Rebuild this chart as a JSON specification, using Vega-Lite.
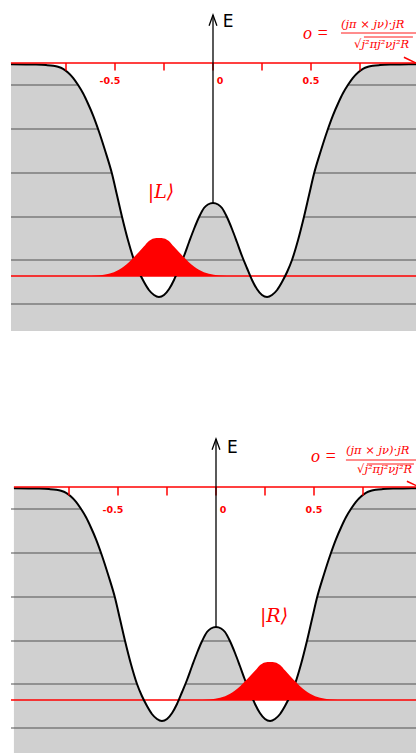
{
  "$schema": "https://vega.github.io/schema/vega-lite/v6.json",
  "padding": {"left": 10, "top": 11, "right": 0, "bottom": 0},
  "spacing": 104,
  "config": {"view": {"stroke": null}},
  "data": {"values": [
    {"k": "pot", "x": -1.031, "E": -0.013}, {"k": "pot", "x": -0.954, "E": -0.014}, {"k": "pot", "x": -0.903, "E": -0.016}, {"k": "pot", "x": -0.852, "E": -0.021},
    {"k": "pot", "x": -0.816, "E": -0.028}, {"k": "pot", "x": -0.791, "E": -0.038}, {"k": "pot", "x": -0.765, "E": -0.058}, {"k": "pot", "x": -0.74, "E": -0.095},
    {"k": "pot", "x": -0.714, "E": -0.148}, {"k": "pot", "x": -0.689, "E": -0.218}, {"k": "pot", "x": -0.663, "E": -0.303}, {"k": "pot", "x": -0.638, "E": -0.405},
    {"k": "pot", "x": -0.612, "E": -0.523}, {"k": "pot", "x": -0.582, "E": -0.685}, {"k": "pot", "x": -0.551, "E": -0.873}, {"k": "pot", "x": -0.515, "E": -1.11},
    {"k": "pot", "x": -0.49, "E": -1.32}, {"k": "pot", "x": -0.464, "E": -1.54},
    {"k": "pot", "x": -0.434, "E": -1.77}, {"k": "pot", "x": -0.403, "E": -1.97}, {"k": "pot", "x": -0.378, "E": -2.09}, {"k": "pot", "x": -0.352, "E": -2.19},
    {"k": "pot", "x": -0.327, "E": -2.27}, {"k": "pot", "x": -0.301, "E": -2.32}, {"k": "pot", "x": -0.276, "E": -2.34}, {"k": "pot", "x": -0.25, "E": -2.32},
    {"k": "pot", "x": -0.224, "E": -2.26}, {"k": "pot", "x": -0.199, "E": -2.17}, {"k": "pot", "x": -0.173, "E": -2.05}, {"k": "pot", "x": -0.148, "E": -1.93},
    {"k": "pot", "x": -0.122, "E": -1.79}, {"k": "pot", "x": -0.097, "E": -1.66}, {"k": "pot", "x": -0.071, "E": -1.54}, {"k": "pot", "x": -0.046, "E": -1.45},
    {"k": "pot", "x": -0.026, "E": -1.415}, {"k": "pot", "x": 0, "E": -1.4},
    {"k": "pot", "x": 0.026, "E": -1.415}, {"k": "pot", "x": 0.046, "E": -1.45}, {"k": "pot", "x": 0.071, "E": -1.54}, {"k": "pot", "x": 0.097, "E": -1.66},
    {"k": "pot", "x": 0.122, "E": -1.79}, {"k": "pot", "x": 0.148, "E": -1.93}, {"k": "pot", "x": 0.173, "E": -2.05}, {"k": "pot", "x": 0.199, "E": -2.17},
    {"k": "pot", "x": 0.224, "E": -2.26}, {"k": "pot", "x": 0.25, "E": -2.32}, {"k": "pot", "x": 0.276, "E": -2.34}, {"k": "pot", "x": 0.301, "E": -2.32},
    {"k": "pot", "x": 0.327, "E": -2.27}, {"k": "pot", "x": 0.352, "E": -2.19}, {"k": "pot", "x": 0.378, "E": -2.09}, {"k": "pot", "x": 0.403, "E": -1.97},
    {"k": "pot", "x": 0.434, "E": -1.77}, {"k": "pot", "x": 0.464, "E": -1.54}, {"k": "pot", "x": 0.49, "E": -1.32},
    {"k": "pot", "x": 0.515, "E": -1.11}, {"k": "pot", "x": 0.551, "E": -0.873}, {"k": "pot", "x": 0.582, "E": -0.685}, {"k": "pot", "x": 0.612, "E": -0.523},
    {"k": "pot", "x": 0.638, "E": -0.405}, {"k": "pot", "x": 0.663, "E": -0.303}, {"k": "pot", "x": 0.689, "E": -0.218}, {"k": "pot", "x": 0.714, "E": -0.148},
    {"k": "pot", "x": 0.74, "E": -0.095}, {"k": "pot", "x": 0.765, "E": -0.058}, {"k": "pot", "x": 0.791, "E": -0.038}, {"k": "pot", "x": 0.816, "E": -0.028},
    {"k": "pot", "x": 0.852, "E": -0.021}, {"k": "pot", "x": 0.903, "E": -0.016}, {"k": "pot", "x": 0.954, "E": -0.014}, {"k": "pot", "x": 1.031, "E": -0.013},
    {"k": "pot", "x": 1.06, "E": -0.013},
    {"k": "lev", "E": -0.22}, {"k": "lev", "E": -0.66}, {"k": "lev", "E": -1.1}, {"k": "lev", "E": -1.54}, {"k": "lev", "E": -1.97}, {"k": "lev", "E": -2.41},
    {"k": "gnd", "E": -2.13},
    {"k": "tick", "x": -0.75}, {"k": "tick", "x": -0.5}, {"k": "tick", "x": -0.25}, {"k": "tick", "x": 0}, {"k": "tick", "x": 0.25}, {"k": "tick", "x": 0.5}, {"k": "tick", "x": 0.75},
    {"k": "nlab", "x": -0.5, "t": "-0.5"},
    {"k": "tlab", "x": 0.5, "t": "0.5"},
    {"k": "zlab", "x": 0, "t": "0"},
    {"k": "xax", "x": -1.031, "x2": 1.036, "E": 0},
    {"k": "xarr", "x": 0.974, "E": 0.058, "o": 1}, {"k": "xarr", "x": 1.036, "E": 0, "o": 2}, {"k": "xarr", "x": 0.974, "E": -0.058, "o": 3},
    {"k": "eax", "x": 0, "E": -1.4, "E2": 0.48},
    {"k": "earr", "x": -0.02, "E": 0.373}, {"k": "earr", "x": 0, "E": 0.48}, {"k": "earr", "x": 0.02, "E": 0.373},
    {"k": "wL", "x": -0.659, "E": -2.13}, {"k": "wL", "x": -0.582, "E": -2.124}, {"k": "wL", "x": -0.531, "E": -2.108}, {"k": "wL", "x": -0.48, "E": -2.068},
    {"k": "wL", "x": -0.455, "E": -2.035}, {"k": "wL", "x": -0.429, "E": -1.993}, {"k": "wL", "x": -0.404, "E": -1.943}, {"k": "wL", "x": -0.378, "E": -1.889},
    {"k": "wL", "x": -0.353, "E": -1.836}, {"k": "wL", "x": -0.327, "E": -1.78}, {"k": "wL", "x": -0.302, "E": -1.754}, {"k": "wL", "x": -0.276, "E": -1.75},
    {"k": "wL", "x": -0.25, "E": -1.754}, {"k": "wL", "x": -0.225, "E": -1.78}, {"k": "wL", "x": -0.2, "E": -1.836}, {"k": "wL", "x": -0.174, "E": -1.889},
    {"k": "wL", "x": -0.148, "E": -1.943}, {"k": "wL", "x": -0.123, "E": -1.993}, {"k": "wL", "x": -0.097, "E": -2.035}, {"k": "wL", "x": -0.072, "E": -2.068},
    {"k": "wL", "x": -0.021, "E": -2.108}, {"k": "wL", "x": 0.03, "E": -2.124}, {"k": "wL", "x": 0.107, "E": -2.13},
    {"k": "wR", "x": -0.107, "E": -2.13}, {"k": "wR", "x": -0.03, "E": -2.124}, {"k": "wR", "x": 0.021, "E": -2.108}, {"k": "wR", "x": 0.072, "E": -2.068},
    {"k": "wR", "x": 0.097, "E": -2.035}, {"k": "wR", "x": 0.123, "E": -1.993}, {"k": "wR", "x": 0.148, "E": -1.943}, {"k": "wR", "x": 0.174, "E": -1.889},
    {"k": "wR", "x": 0.2, "E": -1.836}, {"k": "wR", "x": 0.225, "E": -1.78}, {"k": "wR", "x": 0.25, "E": -1.754}, {"k": "wR", "x": 0.276, "E": -1.75},
    {"k": "wR", "x": 0.302, "E": -1.754}, {"k": "wR", "x": 0.327, "E": -1.78}, {"k": "wR", "x": 0.353, "E": -1.836}, {"k": "wR", "x": 0.378, "E": -1.889},
    {"k": "wR", "x": 0.404, "E": -1.943}, {"k": "wR", "x": 0.429, "E": -1.993}, {"k": "wR", "x": 0.455, "E": -2.035}, {"k": "wR", "x": 0.48, "E": -2.068},
    {"k": "wR", "x": 0.531, "E": -2.108}, {"k": "wR", "x": 0.582, "E": -2.124}, {"k": "wR", "x": 0.659, "E": -2.13},
    {"k": "elab1", "x": 0.05, "E": 0.41, "t": "E"},
    {"k": "elab2", "x": 0.056, "E": 0.395, "t": "E"},
    {"k": "oeq1", "x": 0.459, "E": 0.29, "t": "o ="},
    {"k": "oeq2", "x": 0.485, "E": 0.3, "t": "o ="},
    {"k": "fr1", "x": 0.653, "E": 0.38, "t": "(jπ × jν)·jR"}, {"k": "fr1", "x": 0.72, "E": 0.18, "t": "√j²πj²νj²R"},
    {"k": "fr2", "x": 0.663, "E": 0.36, "t": "(jπ × jν)·jR"}, {"k": "fr2", "x": 0.72, "E": 0.17, "t": "√j²πj²νj²R"},
    {"k": "bar1", "x": 0.653, "x2": 1.04, "E": 0.3}, {"k": "bar1", "x": 0.77, "x2": 1.02, "E": 0.26},
    {"k": "bar2", "x": 0.663, "x2": 1.05, "E": 0.27}, {"k": "bar2", "x": 0.77, "x2": 1.01, "E": 0.23},
    {"k": "ket1", "x": -0.265, "E": -1.29, "t": "|L⟩"},
    {"k": "ket2", "x": 0.296, "E": -1.29, "t": "|R⟩"}
  ]},
  "vconcat": [
    {
      "width": 406,
      "height": 320,
      "layer": [
        {"transform": [{"filter": "datum.k == 'xarr'"}], "mark": {"type": "line", "color": "#ff0000", "strokeWidth": 1.5},
         "encoding": {"x": {"field": "x", "type": "quantitative", "scale": {"domain": [-1.0306, 1.0408], "nice": false, "zero": false}, "axis": null},
                      "y": {"field": "E", "type": "quantitative", "scale": {"domain": [-2.68, 0.52], "nice": false, "zero": false}, "axis": null},
                      "order": {"field": "o", "type": "quantitative"}}},
        {"transform": [{"filter": "datum.k == 'pot'"}], "mark": {"type": "area", "fill": "#d0d0d0", "interpolate": "monotone", "clip": true},
         "encoding": {"x": {"field": "x", "type": "quantitative", "scale": {"domain": [-1.0306, 1.0408], "nice": false, "zero": false}, "axis": null},
                      "y": {"field": "E", "type": "quantitative", "stack": null, "scale": {"domain": [-2.68, 0.52], "nice": false, "zero": false}, "axis": null},
                      "y2": {"datum": -2.68}}},
        {"transform": [{"filter": "datum.k == 'lev'"}], "mark": {"type": "rule", "stroke": "#505050", "strokeWidth": 1.2},
         "encoding": {"y": {"field": "E", "type": "quantitative", "scale": {"domain": [-2.68, 0.52], "nice": false, "zero": false}, "axis": null}}},
        {"transform": [{"filter": "datum.k == 'pot'"}], "mark": {"type": "area", "fill": "#ffffff", "interpolate": "monotone", "clip": true},
         "encoding": {"x": {"field": "x", "type": "quantitative", "scale": {"domain": [-1.0306, 1.0408], "nice": false, "zero": false}, "axis": null},
                      "y": {"field": "E", "type": "quantitative", "stack": null, "scale": {"domain": [-2.68, 0.52], "nice": false, "zero": false}, "axis": null},
                      "y2": {"datum": 0}}},
        {"transform": [{"filter": "datum.k == 'gnd'"}], "mark": {"type": "rule", "stroke": "#ff0000", "strokeWidth": 1.3},
         "encoding": {"y": {"field": "E", "type": "quantitative", "scale": {"domain": [-2.68, 0.52], "nice": false, "zero": false}, "axis": null}}},
        {"transform": [{"filter": "datum.k == 'pot'"}], "mark": {"type": "line", "color": "#000000", "strokeWidth": 2, "interpolate": "monotone", "clip": true},
         "encoding": {"x": {"field": "x", "type": "quantitative", "scale": {"domain": [-1.0306, 1.0408], "nice": false, "zero": false}, "axis": null},
                      "y": {"field": "E", "type": "quantitative", "scale": {"domain": [-2.68, 0.52], "nice": false, "zero": false}, "axis": null}}},
        {"transform": [{"filter": "datum.k == 'wL'"}], "mark": {"type": "area", "fill": "#ff0000", "interpolate": "monotone"},
         "encoding": {"x": {"field": "x", "type": "quantitative", "scale": {"domain": [-1.0306, 1.0408], "nice": false, "zero": false}, "axis": null},
                      "y": {"field": "E", "type": "quantitative", "stack": null, "scale": {"domain": [-2.68, 0.52], "nice": false, "zero": false}, "axis": null},
                      "y2": {"datum": -2.13}}},
        {"transform": [{"filter": "datum.k == 'xax'"}], "mark": {"type": "rule", "stroke": "#ff0000", "strokeWidth": 1.5},
         "encoding": {"x": {"field": "x", "type": "quantitative", "scale": {"domain": [-1.0306, 1.0408], "nice": false, "zero": false}, "axis": null},
                      "x2": {"field": "x2"},
                      "y": {"field": "E", "type": "quantitative", "scale": {"domain": [-2.68, 0.52], "nice": false, "zero": false}, "axis": null}}},
        {"transform": [{"filter": "datum.k == 'tick'"}], "mark": {"type": "rule", "stroke": "#ff0000", "strokeWidth": 1.5},
         "encoding": {"x": {"field": "x", "type": "quantitative", "scale": {"domain": [-1.0306, 1.0408], "nice": false, "zero": false}, "axis": null},
                      "y": {"datum": 0, "type": "quantitative", "scale": {"domain": [-2.68, 0.52], "nice": false, "zero": false}, "axis": null}, "y2": {"datum": -0.075}}},
        {"transform": [{"filter": "datum.k == 'tlab'"}], "mark": {"type": "text", "font": "DejaVu Sans", "fontWeight": "bold", "fontSize": 9.5, "fill": "#ff0000", "align": "center", "baseline": "middle"},
         "encoding": {"x": {"field": "x", "type": "quantitative", "scale": {"domain": [-1.0306, 1.0408], "nice": false, "zero": false}, "axis": null},
                      "y": {"datum": -0.18, "type": "quantitative", "scale": {"domain": [-2.68, 0.52], "nice": false, "zero": false}, "axis": null}, "text": {"field": "t", "type": "nominal"}}},
        {"transform": [{"filter": "datum.k == 'nlab'"}], "mark": {"type": "text", "font": "DejaVu Sans", "fontWeight": "bold", "fontSize": 9.5, "fill": "#ff0000", "align": "center", "baseline": "middle", "dx": -5},
         "encoding": {"x": {"field": "x", "type": "quantitative", "scale": {"domain": [-1.0306, 1.0408], "nice": false, "zero": false}, "axis": null},
                      "y": {"datum": -0.18, "type": "quantitative", "scale": {"domain": [-2.68, 0.52], "nice": false, "zero": false}, "axis": null}, "text": {"field": "t", "type": "nominal"}}},
        {"transform": [{"filter": "datum.k == 'zlab'"}], "mark": {"type": "text", "font": "DejaVu Sans", "fontWeight": "bold", "fontSize": 9.5, "fill": "#ff0000", "align": "center", "baseline": "middle", "dx": 7},
         "encoding": {"x": {"field": "x", "type": "quantitative", "scale": {"domain": [-1.0306, 1.0408], "nice": false, "zero": false}, "axis": null},
                      "y": {"datum": -0.18, "type": "quantitative", "scale": {"domain": [-2.68, 0.52], "nice": false, "zero": false}, "axis": null}, "text": {"field": "t", "type": "nominal"}}},
        {"transform": [{"filter": "datum.k == 'eax'"}], "mark": {"type": "rule", "stroke": "#000000", "strokeWidth": 1.3},
         "encoding": {"x": {"field": "x", "type": "quantitative", "scale": {"domain": [-1.0306, 1.0408], "nice": false, "zero": false}, "axis": null},
                      "y": {"field": "E", "type": "quantitative", "scale": {"domain": [-2.68, 0.52], "nice": false, "zero": false}, "axis": null},
                      "y2": {"field": "E2"}}},
        {"transform": [{"filter": "datum.k == 'earr'"}], "mark": {"type": "line", "color": "#000000", "strokeWidth": 1.3},
         "encoding": {"x": {"field": "x", "type": "quantitative", "scale": {"domain": [-1.0306, 1.0408], "nice": false, "zero": false}, "axis": null},
                      "y": {"field": "E", "type": "quantitative", "scale": {"domain": [-2.68, 0.52], "nice": false, "zero": false}, "axis": null}}},
        {"transform": [{"filter": "datum.k == 'elab1'"}], "mark": {"type": "text", "font": "DejaVu Sans", "fontSize": 17, "fill": "#000000", "align": "left", "baseline": "middle"},
         "encoding": {"x": {"field": "x", "type": "quantitative", "scale": {"domain": [-1.0306, 1.0408], "nice": false, "zero": false}, "axis": null},
                      "y": {"field": "E", "type": "quantitative", "scale": {"domain": [-2.68, 0.52], "nice": false, "zero": false}, "axis": null},
                      "text": {"field": "t", "type": "nominal"}}},
        {"transform": [{"filter": "datum.k == 'oeq1'"}], "mark": {"type": "text", "font": "Liberation Serif", "fontStyle": "italic", "fontSize": 18, "fill": "#ff0000", "align": "left", "baseline": "middle"},
         "encoding": {"x": {"field": "x", "type": "quantitative", "scale": {"domain": [-1.0306, 1.0408], "nice": false, "zero": false}, "axis": null},
                      "y": {"field": "E", "type": "quantitative", "scale": {"domain": [-2.68, 0.52], "nice": false, "zero": false}, "axis": null},
                      "text": {"field": "t", "type": "nominal"}}},
        {"transform": [{"filter": "datum.k == 'fr1'"}], "mark": {"type": "text", "font": "DejaVu Serif", "fontStyle": "italic", "fontSize": 11.5, "fill": "#ff0000", "align": "left", "baseline": "middle"},
         "encoding": {"x": {"field": "x", "type": "quantitative", "scale": {"domain": [-1.0306, 1.0408], "nice": false, "zero": false}, "axis": null},
                      "y": {"field": "E", "type": "quantitative", "scale": {"domain": [-2.68, 0.52], "nice": false, "zero": false}, "axis": null},
                      "text": {"field": "t", "type": "nominal"}}},
        {"transform": [{"filter": "datum.k == 'bar1'"}], "mark": {"type": "rule", "stroke": "#ff0000", "strokeWidth": 0.9},
         "encoding": {"x": {"field": "x", "type": "quantitative", "scale": {"domain": [-1.0306, 1.0408], "nice": false, "zero": false}, "axis": null},
                      "x2": {"field": "x2"},
                      "y": {"field": "E", "type": "quantitative", "scale": {"domain": [-2.68, 0.52], "nice": false, "zero": false}, "axis": null}}},
        {"transform": [{"filter": "datum.k == 'ket1'"}], "mark": {"type": "text", "font": "DejaVu Serif", "fontStyle": "italic", "fontSize": 19, "fill": "#ff0000", "align": "center", "baseline": "middle"},
         "encoding": {"x": {"field": "x", "type": "quantitative", "scale": {"domain": [-1.0306, 1.0408], "nice": false, "zero": false}, "axis": null},
                      "y": {"field": "E", "type": "quantitative", "scale": {"domain": [-2.68, 0.52], "nice": false, "zero": false}, "axis": null},
                      "text": {"field": "t", "type": "nominal"}}}
      ]
    },
    {
      "width": 406,
      "height": 320,
      "layer": [
        {"transform": [{"filter": "datum.k == 'xarr'"}], "mark": {"type": "line", "color": "#ff0000", "strokeWidth": 1.5},
         "encoding": {"x": {"field": "x", "type": "quantitative", "scale": {"domain": [-1.0459, 1.0255], "nice": false, "zero": false}, "axis": null},
                      "y": {"field": "E", "type": "quantitative", "scale": {"domain": [-2.68, 0.52], "nice": false, "zero": false}, "axis": null},
                      "order": {"field": "o", "type": "quantitative"}}},
        {"transform": [{"filter": "datum.k == 'pot'"}], "mark": {"type": "area", "fill": "#d0d0d0", "interpolate": "monotone", "clip": true},
         "encoding": {"x": {"field": "x", "type": "quantitative", "scale": {"domain": [-1.0459, 1.0255], "nice": false, "zero": false}, "axis": null},
                      "y": {"field": "E", "type": "quantitative", "stack": null, "scale": {"domain": [-2.68, 0.52], "nice": false, "zero": false}, "axis": null},
                      "y2": {"datum": -2.68}}},
        {"transform": [{"filter": "datum.k == 'lev'"}], "mark": {"type": "rule", "stroke": "#505050", "strokeWidth": 1.2},
         "encoding": {"y": {"field": "E", "type": "quantitative", "scale": {"domain": [-2.68, 0.52], "nice": false, "zero": false}, "axis": null}}},
        {"transform": [{"filter": "datum.k == 'pot'"}], "mark": {"type": "area", "fill": "#ffffff", "interpolate": "monotone", "clip": true},
         "encoding": {"x": {"field": "x", "type": "quantitative", "scale": {"domain": [-1.0459, 1.0255], "nice": false, "zero": false}, "axis": null},
                      "y": {"field": "E", "type": "quantitative", "stack": null, "scale": {"domain": [-2.68, 0.52], "nice": false, "zero": false}, "axis": null},
                      "y2": {"datum": 0}}},
        {"transform": [{"filter": "datum.k == 'gnd'"}], "mark": {"type": "rule", "stroke": "#ff0000", "strokeWidth": 1.3},
         "encoding": {"y": {"field": "E", "type": "quantitative", "scale": {"domain": [-2.68, 0.52], "nice": false, "zero": false}, "axis": null}}},
        {"transform": [{"filter": "datum.k == 'pot'"}], "mark": {"type": "line", "color": "#000000", "strokeWidth": 2, "interpolate": "monotone", "clip": true},
         "encoding": {"x": {"field": "x", "type": "quantitative", "scale": {"domain": [-1.0459, 1.0255], "nice": false, "zero": false}, "axis": null},
                      "y": {"field": "E", "type": "quantitative", "scale": {"domain": [-2.68, 0.52], "nice": false, "zero": false}, "axis": null}}},
        {"transform": [{"filter": "datum.k == 'wR'"}], "mark": {"type": "area", "fill": "#ff0000", "interpolate": "monotone"},
         "encoding": {"x": {"field": "x", "type": "quantitative", "scale": {"domain": [-1.0459, 1.0255], "nice": false, "zero": false}, "axis": null},
                      "y": {"field": "E", "type": "quantitative", "stack": null, "scale": {"domain": [-2.68, 0.52], "nice": false, "zero": false}, "axis": null},
                      "y2": {"datum": -2.13}}},
        {"transform": [{"filter": "datum.k == 'xax'"}], "mark": {"type": "rule", "stroke": "#ff0000", "strokeWidth": 1.5, "clip": true},
         "encoding": {"x": {"field": "x", "type": "quantitative", "scale": {"domain": [-1.0459, 1.0255], "nice": false, "zero": false}, "axis": null},
                      "x2": {"field": "x2"},
                      "y": {"field": "E", "type": "quantitative", "scale": {"domain": [-2.68, 0.52], "nice": false, "zero": false}, "axis": null}}},
        {"transform": [{"filter": "datum.k == 'tick'"}], "mark": {"type": "rule", "stroke": "#ff0000", "strokeWidth": 1.5},
         "encoding": {"x": {"field": "x", "type": "quantitative", "scale": {"domain": [-1.0459, 1.0255], "nice": false, "zero": false}, "axis": null},
                      "y": {"datum": 0, "type": "quantitative", "scale": {"domain": [-2.68, 0.52], "nice": false, "zero": false}, "axis": null}, "y2": {"datum": -0.085}}},
        {"transform": [{"filter": "datum.k == 'tlab'"}], "mark": {"type": "text", "font": "DejaVu Sans", "fontWeight": "bold", "fontSize": 9.5, "fill": "#ff0000", "align": "center", "baseline": "middle"},
         "encoding": {"x": {"field": "x", "type": "quantitative", "scale": {"domain": [-1.0459, 1.0255], "nice": false, "zero": false}, "axis": null},
                      "y": {"datum": -0.225, "type": "quantitative", "scale": {"domain": [-2.68, 0.52], "nice": false, "zero": false}, "axis": null}, "text": {"field": "t", "type": "nominal"}}},
        {"transform": [{"filter": "datum.k == 'nlab'"}], "mark": {"type": "text", "font": "DejaVu Sans", "fontWeight": "bold", "fontSize": 9.5, "fill": "#ff0000", "align": "center", "baseline": "middle", "dx": -5},
         "encoding": {"x": {"field": "x", "type": "quantitative", "scale": {"domain": [-1.0459, 1.0255], "nice": false, "zero": false}, "axis": null},
                      "y": {"datum": -0.225, "type": "quantitative", "scale": {"domain": [-2.68, 0.52], "nice": false, "zero": false}, "axis": null}, "text": {"field": "t", "type": "nominal"}}},
        {"transform": [{"filter": "datum.k == 'zlab'"}], "mark": {"type": "text", "font": "DejaVu Sans", "fontWeight": "bold", "fontSize": 9.5, "fill": "#ff0000", "align": "center", "baseline": "middle", "dx": 7},
         "encoding": {"x": {"field": "x", "type": "quantitative", "scale": {"domain": [-1.0459, 1.0255], "nice": false, "zero": false}, "axis": null},
                      "y": {"datum": -0.225, "type": "quantitative", "scale": {"domain": [-2.68, 0.52], "nice": false, "zero": false}, "axis": null}, "text": {"field": "t", "type": "nominal"}}},
        {"transform": [{"filter": "datum.k == 'eax'"}], "mark": {"type": "rule", "stroke": "#000000", "strokeWidth": 1.3},
         "encoding": {"x": {"field": "x", "type": "quantitative", "scale": {"domain": [-1.0459, 1.0255], "nice": false, "zero": false}, "axis": null},
                      "y": {"field": "E", "type": "quantitative", "scale": {"domain": [-2.68, 0.52], "nice": false, "zero": false}, "axis": null},
                      "y2": {"field": "E2"}}},
        {"transform": [{"filter": "datum.k == 'earr'"}], "mark": {"type": "line", "color": "#000000", "strokeWidth": 1.3},
         "encoding": {"x": {"field": "x", "type": "quantitative", "scale": {"domain": [-1.0459, 1.0255], "nice": false, "zero": false}, "axis": null},
                      "y": {"field": "E", "type": "quantitative", "scale": {"domain": [-2.68, 0.52], "nice": false, "zero": false}, "axis": null}}},
        {"transform": [{"filter": "datum.k == 'elab2'"}], "mark": {"type": "text", "font": "DejaVu Sans", "fontSize": 17, "fill": "#000000", "align": "left", "baseline": "middle"},
         "encoding": {"x": {"field": "x", "type": "quantitative", "scale": {"domain": [-1.0459, 1.0255], "nice": false, "zero": false}, "axis": null},
                      "y": {"field": "E", "type": "quantitative", "scale": {"domain": [-2.68, 0.52], "nice": false, "zero": false}, "axis": null},
                      "text": {"field": "t", "type": "nominal"}}},
        {"transform": [{"filter": "datum.k == 'oeq2'"}], "mark": {"type": "text", "font": "Liberation Serif", "fontStyle": "italic", "fontSize": 18, "fill": "#ff0000", "align": "left", "baseline": "middle"},
         "encoding": {"x": {"field": "x", "type": "quantitative", "scale": {"domain": [-1.0459, 1.0255], "nice": false, "zero": false}, "axis": null},
                      "y": {"field": "E", "type": "quantitative", "scale": {"domain": [-2.68, 0.52], "nice": false, "zero": false}, "axis": null},
                      "text": {"field": "t", "type": "nominal"}}},
        {"transform": [{"filter": "datum.k == 'fr2'"}], "mark": {"type": "text", "font": "DejaVu Serif", "fontStyle": "italic", "fontSize": 11.5, "fill": "#ff0000", "align": "left", "baseline": "middle"},
         "encoding": {"x": {"field": "x", "type": "quantitative", "scale": {"domain": [-1.0459, 1.0255], "nice": false, "zero": false}, "axis": null},
                      "y": {"field": "E", "type": "quantitative", "scale": {"domain": [-2.68, 0.52], "nice": false, "zero": false}, "axis": null},
                      "text": {"field": "t", "type": "nominal"}}},
        {"transform": [{"filter": "datum.k == 'bar2'"}], "mark": {"type": "rule", "stroke": "#ff0000", "strokeWidth": 0.9},
         "encoding": {"x": {"field": "x", "type": "quantitative", "scale": {"domain": [-1.0459, 1.0255], "nice": false, "zero": false}, "axis": null},
                      "x2": {"field": "x2"},
                      "y": {"field": "E", "type": "quantitative", "scale": {"domain": [-2.68, 0.52], "nice": false, "zero": false}, "axis": null}}},
        {"transform": [{"filter": "datum.k == 'ket2'"}], "mark": {"type": "text", "font": "DejaVu Serif", "fontStyle": "italic", "fontSize": 19, "fill": "#ff0000", "align": "center", "baseline": "middle"},
         "encoding": {"x": {"field": "x", "type": "quantitative", "scale": {"domain": [-1.0459, 1.0255], "nice": false, "zero": false}, "axis": null},
                      "y": {"field": "E", "type": "quantitative", "scale": {"domain": [-2.68, 0.52], "nice": false, "zero": false}, "axis": null},
                      "text": {"field": "t", "type": "nominal"}}}
      ]
    }
  ]
}
